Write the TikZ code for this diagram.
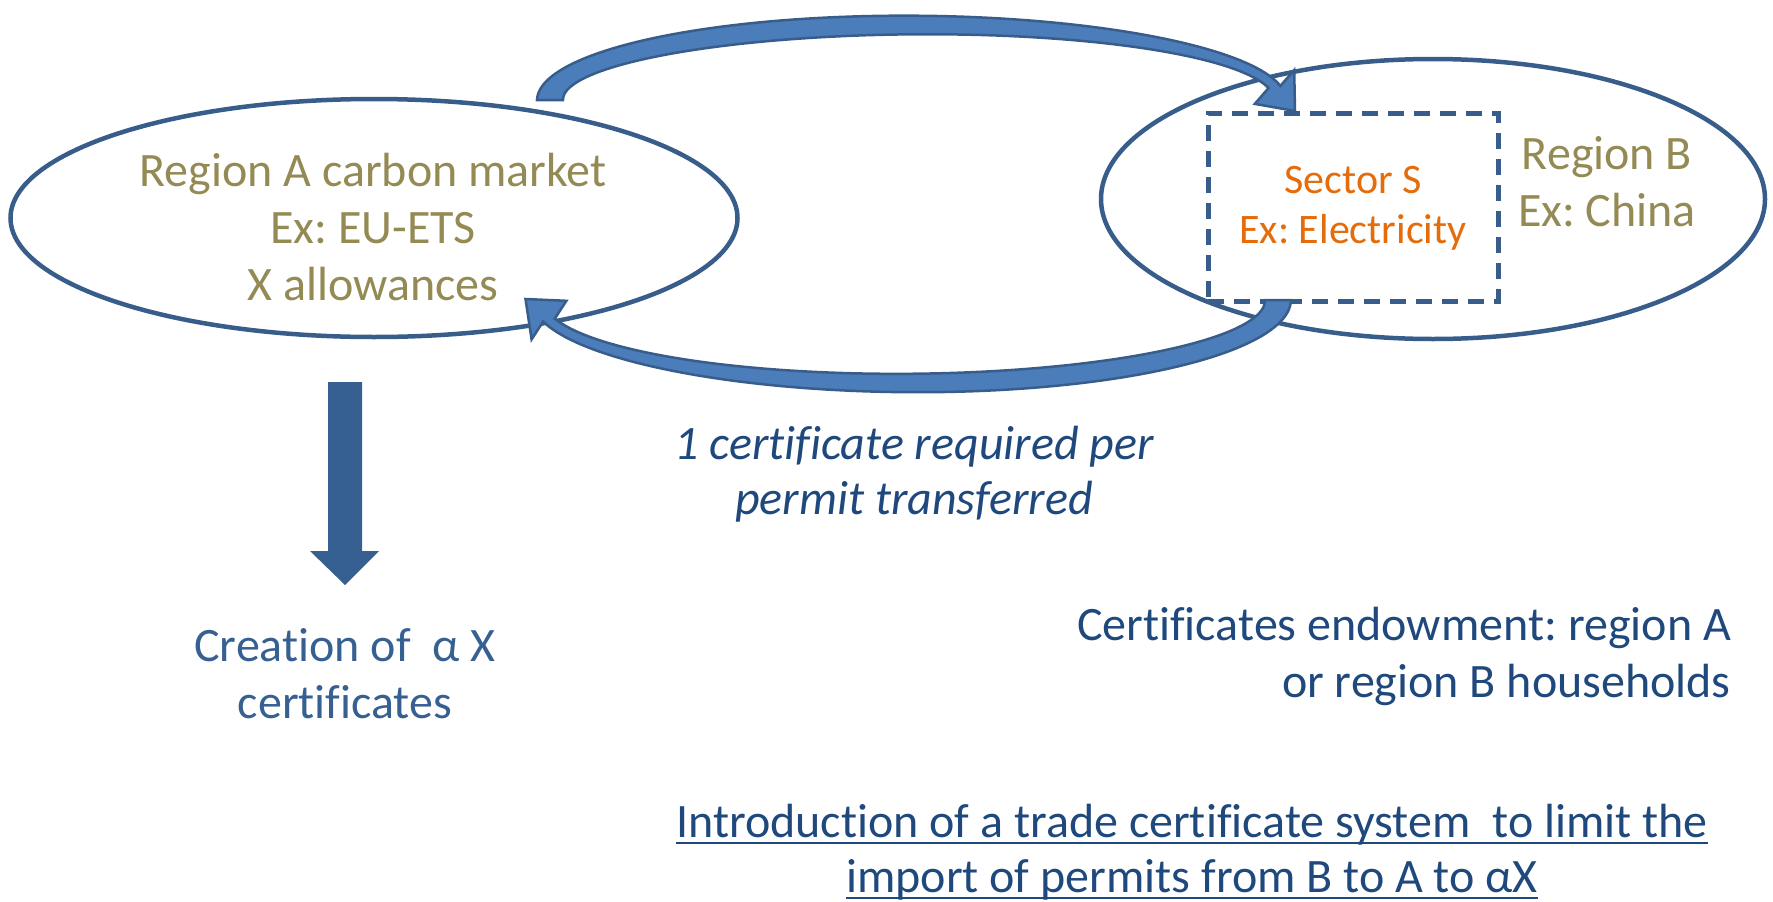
\documentclass[tikz,border=0pt]{standalone}
\usepackage{fontspec}
\setmainfont{Carlito}[Ligatures={CommonOff}]
\usetikzlibrary{shapes.geometric,calc}
\definecolor{lineblue}{HTML}{385D8A}
\definecolor{arrowfill}{HTML}{4A7DBA}
\definecolor{downblue}{HTML}{376092}
\definecolor{olive}{HTML}{948A54}
\definecolor{orangeS}{HTML}{E46C0A}
\definecolor{darkblue}{HTML}{1F497D}
\tikzset{
  region/.style={draw=lineblue, line width=4.5pt, ellipse, inner sep=0pt},
  sectorbox/.style={draw=lineblue, line width=5pt, dash pattern=on 16pt off 10pt, inner sep=0pt},
  curvearrow/.style={fill=arrowfill, draw=lineblue, line width=2.5pt, line join=miter},
  txt/.style={inner sep=0pt, anchor=base, font=\fontsize{48}{57}\selectfont},
  txtr/.style={inner sep=0pt, anchor=base east, font=\fontsize{48}{57}\selectfont},
  stxt/.style={inner sep=0pt, anchor=base, font=\fontsize{42}{51}\selectfont, text=orangeS},
  uline/.style={draw=darkblue, line width=2.5pt}
}
\begin{document}
\frenchspacing
\begin{tikzpicture}[x=1pt,y=-1pt]
\useasboundingbox (0,0) rectangle (1773,902);
% regions
\node[region, minimum width=727pt, minimum height=238pt] (ellA) at (374,218) {};
\node[region, minimum width=664pt, minimum height=280pt] (ellB) at (1433,199) {};
\node[sectorbox, minimum width=290pt, minimum height=188pt] (sect) at (1353,207) {};
% top curved arrow (A -> sector)
\draw[curvearrow]
  plot[domain=180:10, samples=90, variable=\t]
   ({915+(365+(12+14*(\t-10)/170)/2)*cos(\t)}, {100-(75+(12+14*(\t-10)/170)/2)*sin(\t)})
  -- (1294.2,70.1) -- (1295,111) -- (1254.8,103.9)
  -- plot[domain=10:180, samples=90, variable=\t]
   ({915+(365-(12+14*(\t-10)/170)/2)*cos(\t)}, {100-(75-(12+14*(\t-10)/170)/2)*sin(\t)})
  -- cycle;
% bottom curved arrow (sector -> A)
\draw[curvearrow]
  plot[domain=0:166, samples=90, variable=\t]
   ({908+(370+(26-14*\t/166)/2)*cos(\t)}, {300+(83+(26-14*\t/166)/2)*sin(\t)})
  -- (531.6,339.4) -- (525.5,299) -- (566.4,300.8)
  -- plot[domain=166:0, samples=90, variable=\t]
   ({908+(370-(26-14*\t/166)/2)*cos(\t)}, {300+(83-(26-14*\t/166)/2)*sin(\t)})
  -- cycle;
% down arrow
\fill[downblue] (328,382) -- (362,382) -- (362,551) -- (379,551) -- (345,585) -- (310,551) -- (328,551) -- cycle;
% texts region A
\node[txt, text=olive] (a1) at (373,186) {Region A carbon market};
\node[txt, text=olive] (a2) at (373,243) {Ex: EU-ETS};
\node[txt, text=olive] (a3) at (373,300) {X allowances};
% sector
\node[stxt] (s1) at (1353,193) {Sector S};
\node[stxt] (s2) at (1353,243) {Ex: Electricity};
% region B
\node[txt, text=olive] (b1) at (1607,169) {Region B};
\node[txt, text=olive] (b2) at (1607,226) {Ex: China};
% middle italic
\node[txt, text=darkblue, font=\fontsize{48}{57}\selectfont\itshape] (m1) at (914,459) {1 certificate required per};
\node[txt, text=darkblue, font=\fontsize{48}{57}\selectfont\itshape] (m2) at (914,514) {permit transferred};
% creation
\node[txt, text=downblue] (c1) at (345,661) {Creation of\ \ α X};
\node[txt, text=downblue] (c2) at (345,718) {certificates};
% endowment
\node[txtr, text=darkblue] (e1) at (1731,640) {Certificates endowment: region A};
\node[txtr, text=darkblue] (e2) at (1731,697) {or region B households};
% introduction
\node[txt, text=darkblue] (i1) at (1192,837) {Introduction of a trade certificate system\ \ to limit the};
\node[txt, text=darkblue] (i2) at (1192,892) {import of permits from B to A to αX};
\draw[uline] ([yshift=-6pt]i1.base west) -- ([yshift=-6pt]i1.base east);
\draw[uline] ([yshift=-6pt]i2.base west) -- ([yshift=-6pt]i2.base east);
\end{tikzpicture}
\end{document}
